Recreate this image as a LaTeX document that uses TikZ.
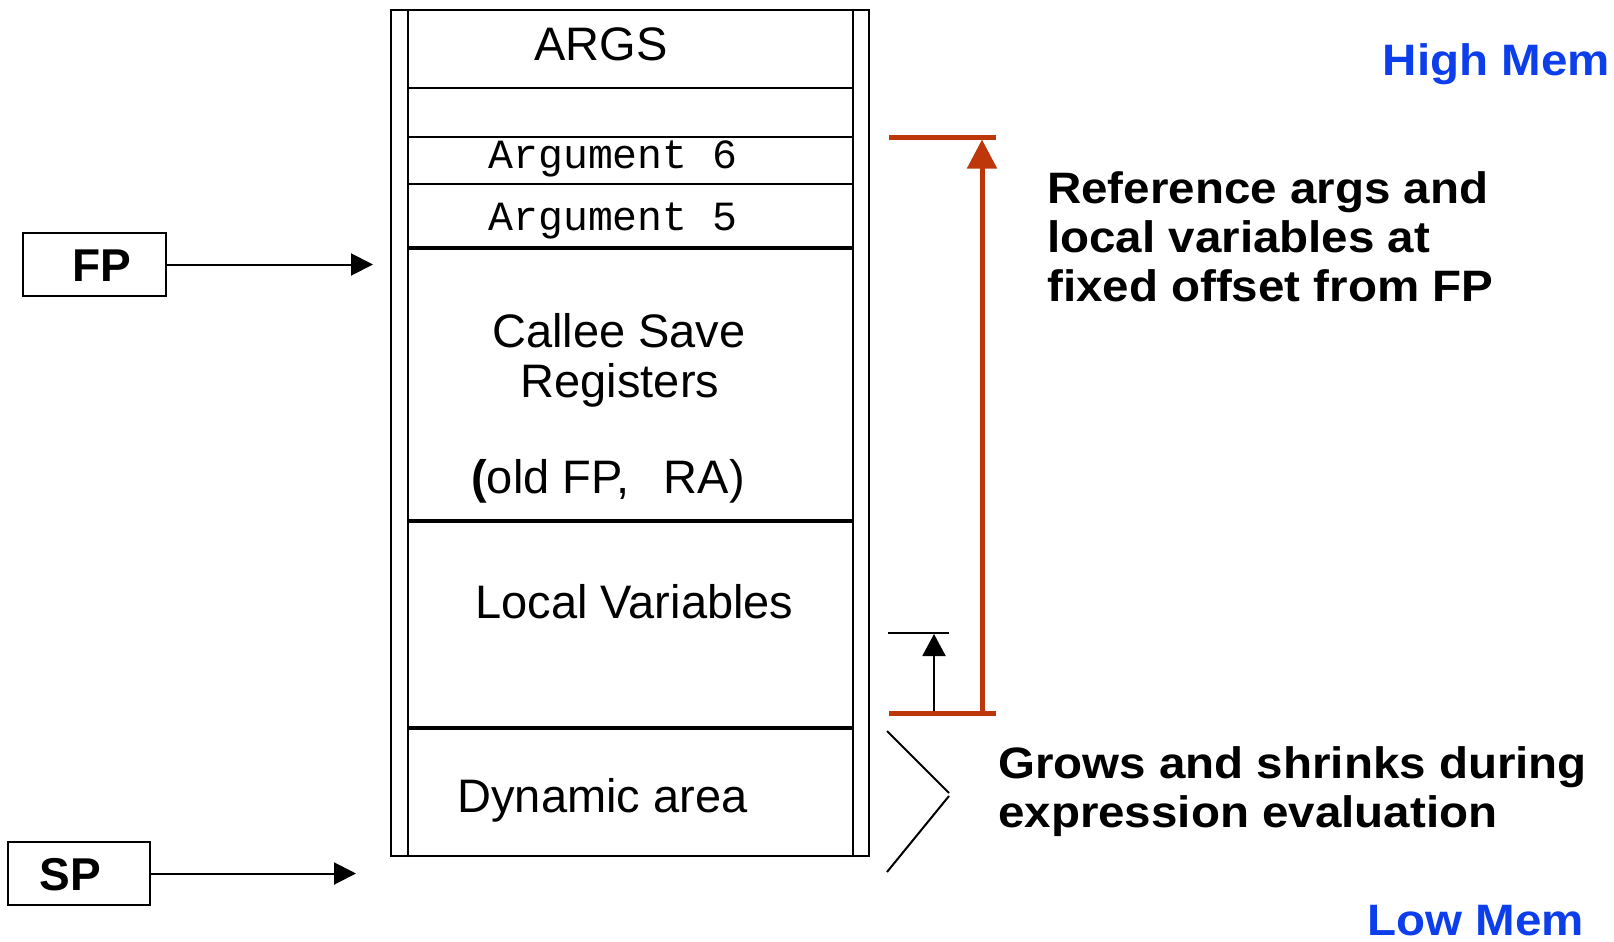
\documentclass[tikz,border=0pt]{standalone}
\usepackage{fontspec}
\setmainfont{Liberation Sans}
\newfontfamily\cellmono{Liberation Mono}
\newfontfamily\widebf[FakeStretch=1.08]{Liberation Sans}
\usetikzlibrary{arrows.meta}
\definecolor{memblue}{RGB}{12,62,235}
\definecolor{offsetred}{RGB}{190,55,10}

\tikzset{
  celledge/.style={line width=2.2pt, line cap=rect},
  cellsplit/.style={line width=3.8pt},
  celltext/.style={inner sep=0pt, anchor=base, font=\fontsize{47}{54}\selectfont},
  monotext/.style={inner sep=0pt, anchor=base, font=\cellmono\fontsize{41.5}{48}\selectfont},
  notetext/.style={inner sep=0pt, anchor=base west, font=\widebf\bfseries\fontsize{44}{49}\selectfont},
  memtext/.style={inner sep=0pt, anchor=base east, text=memblue, font=\widebf\bfseries\fontsize{44}{49}\selectfont},
  ptrbox/.style={draw, line width=2pt, inner sep=0pt, minimum height=63pt},
  ptrtext/.style={inner sep=0pt, anchor=base, font=\bfseries\fontsize{46}{54}\selectfont},
  ptrarrow/.style={line width=2pt, -{Triangle[length=22pt,width=22pt]}},
  redbar/.style={line width=5pt, draw=offsetred},
}

\begin{document}
\begin{tikzpicture}[x=1pt,y=-1pt]
\useasboundingbox (0,0) rectangle (1614,942);

% --- stack frame column ---
\draw[celledge] (391,10) rectangle (869,856);
\draw[celledge] (408,10) -- (408,856);
\draw[celledge] (853,10) -- (853,856);
\draw[celledge] (408,88) -- (853,88);
\draw[celledge] (408,137) -- (853,137);
\draw[celledge] (408,184) -- (853,184);
\draw[cellsplit] (408,248) -- (853,248);
\draw[cellsplit] (408,521) -- (853,521);
\draw[cellsplit] (408,728) -- (853,728);

% --- cell contents ---
\node[celltext] (args) at (601,60) {ARGS};
\node[monotext] (argsix) at (613,168) {Argument 6};
\node[monotext] (argfive) at (613,230) {Argument 5};
\node[celltext] (calleeA) at (619,347) {Callee Save};
\node[celltext] (calleeB) at (620,397) {Registers};
\node[celltext] (oldfp) at (608,493) {{\bfseries(}old FP,\ \ \,RA)};
\node[celltext] (locals) at (634.5,618) {Local Variables};
\node[celltext] (dynamic) at (602.5,812) {Dynamic area};

% --- frame and stack pointers ---
\node[ptrbox, minimum width=143pt] (fpbox) at (94.5,264.5) {};
\node[ptrtext] (fplabel) at (101.5,281) {FP};
\coordinate (fptip) at (373,264.5);
\draw[ptrarrow] (fpbox.east) -- (fptip);

\node[ptrbox, minimum width=142pt] (spbox) at (79,873.5) {};
\node[ptrtext] (splabel) at (70,890) {SP};
\coordinate (sptip) at (356,873.5);
\draw[ptrarrow] (spbox.east) -- (sptip);

% --- fixed offset bracket ---
\coordinate (rtopL) at (889,137);
\coordinate (rtopR) at (996,137);
\coordinate (rbotL) at (889,713);
\coordinate (rbotR) at (996,713);
\coordinate (rshaftB) at (982,713);
\coordinate (rshaftT) at (982,139.5);
\draw[redbar] (rtopL) -- (rtopR);
\draw[redbar] (rbotL) -- (rbotR);
\draw[redbar, -{Triangle[length=29pt,width=29pt]}] (rshaftB) -- (rshaftT);

% --- small offset marker ---
\coordinate (stopL) at (888,633);
\coordinate (stopR) at (949,633);
\coordinate (sshaftB) at (934,711);
\coordinate (sshaftT) at (934,634);
\draw[line width=2pt] (stopL) -- (stopR);
\draw[line width=2pt, -{Triangle[length=22pt,width=23pt]}] (sshaftB) -- (sshaftT);

% --- dynamic area chevron ---
\coordinate (chA) at (887,731);
\coordinate (chB) at (949,793);
\coordinate (chC) at (949,796);
\coordinate (chD) at (887,872);
\draw[line width=2pt] (chA) -- (chB);
\draw[line width=2pt] (chC) -- (chD);

% --- notes ---
\node[notetext] (refA) at (1047,203) {Reference args and};
\node[notetext] (refB) at (1047,252) {local variables at};
\node[notetext] (refC) at (1047,301) {fixed offset from FP};
\node[notetext] (growA) at (998,778) {Grows and shrinks during};
\node[notetext] (growB) at (998,827) {expression evaluation};

\node[memtext] (highmem) at (1610,75) {High Mem};
\node[memtext] (lowmem) at (1584,935) {Low Mem};
\end{tikzpicture}
\end{document}
